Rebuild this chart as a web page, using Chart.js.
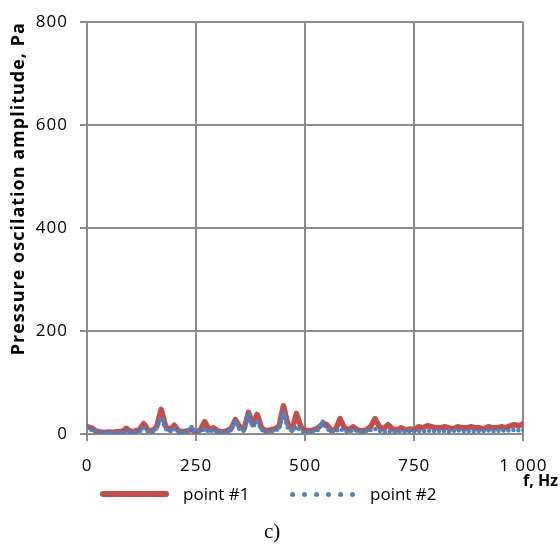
<!DOCTYPE html>
<html><head><meta charset="utf-8">
<script src="https://cdn.jsdelivr.net/npm/chart.js@4.4.0/dist/chart.umd.min.js"></script>
<style>
html,body{margin:0;padding:0;background:#fff;}
#wrap{position:relative;width:560px;height:555px;overflow:hidden;}
canvas{position:absolute;left:0;top:0;}
.t{position:absolute;font-family:'Open Sans',sans-serif;font-size:17px;color:#000;line-height:20px;white-space:nowrap;}
.dot{position:absolute;width:5px;height:5px;border-radius:50%;background:#4F81BD;}
</style></head><body>
<div id="wrap">
<canvas id="c" width="560" height="555"></canvas>
<div style="position:absolute;left:100px;top:491px;width:69px;height:6px;border-radius:3px;background:#C0504D;"></div>
<div class="t" id="lg1" style="left:183px;top:484px;">point #1</div>
<div id="dots"></div>
<div class="t" id="lg2" style="left:370px;top:484px;">point #2</div>
<div class="t" style="right:2px;top:470px;font-weight:bold;font-size:16px;">f, Hz</div>
<div style="position:absolute;left:264px;top:519px;font-family:'Liberation Serif',serif;font-size:21px;line-height:24px;">c)</div>
</div>
<script>
const seriesNames = ['point #1', 'point #2'];
const freqs = [0,10,20,30,40,50,60,70,80,90,100,110,120,130,140,150,160,170,180,190,200,210,220,230,240,250,260,270,280,290,300,310,320,330,340,350,360,370,380,390,400,410,420,430,440,450,460,470,480,490,500,510,520,530,540,550,560,570,580,590,600,610,620,630,640,650,660,670,680,690,700,710,720,730,740,750,760,770,780,790,800,810,820,830,840,850,860,870,880,890,900,910,920,930,940,950,960,970,980,990,1000];
const point1 = [14,12,6,4,3,4,3,5,4,11,
  5,6,8,20,8,6,15,48,15,8,
  17,6,4,6,9,4,8,24,8,12,
  6,4,6,10,28,14,10,42,18,38,
  12,6,8,10,14,55,20,8,40,14,
  8,6,8,12,20,18,6,10,30,12,
  8,14,8,6,8,14,30,14,10,18,
  10,8,12,8,10,8,14,12,16,14,
  12,12,14,12,10,14,12,12,14,12,
  12,10,14,12,12,14,12,16,18,16,20];
const point2 = [14,8,5,3,2,3,2,3,3,5,
  3,4,5,12,5,4,12,32,10,5,
  10,4,3,4,14,3,5,10,4,8,
  3,3,4,8,26,8,6,40,14,24,
  8,4,5,6,10,42,12,6,14,6,
  4,4,5,8,24,10,4,6,10,6,
  4,8,6,4,6,8,10,6,4,6,
  4,4,6,4,6,5,6,5,6,7,
  5,6,6,5,6,7,5,6,6,5,
  6,6,7,5,6,7,6,7,8,7,8];
const xTicks = [0,250,500,750,1000];
const xTickLabels = ['0','250','500','750','1 000'];
const yTicks = [0,200,400,600,800];
const yTickLabels = ['0','200','400','600','800'];

// legend dots
const dots = document.getElementById('dots');
for (let i = 0; i < 6; i++) {
  const d = document.createElement('div');
  d.className = 'dot';
  d.style.left = (290 + i * 12) + 'px';
  d.style.top = '492px';
  dots.appendChild(d);
}

const gridColor = '#8c8c8c';
const tickFont = {family: "'Open Sans'", size: 17};

const spacingPlugin = {
  id: 'spacing',
  beforeDraw(chart) { try { chart.ctx.letterSpacing = '1px'; } catch (e) {} }
};

new Chart(document.getElementById('c'), {
  type: 'line',
  plugins: [spacingPlugin],
  data: {
    datasets: [
      {label: seriesNames[0], data: freqs.map((f, i) => ({x: f, y: point1[i]})),
       borderColor: '#C0504D', backgroundColor: '#C0504D', borderWidth: 5.5,
       pointRadius: 0, tension: 0, borderJoinStyle: 'round', borderCapStyle: 'round', order: 2},
      {label: seriesNames[1], data: freqs.map((f, i) => ({x: f, y: point2[i]})),
       borderColor: '#4F81BD', backgroundColor: '#4F81BD', borderWidth: 4.5,
       borderDash: [0, 5], borderCapStyle: 'round', borderJoinStyle: 'round',
       pointRadius: 0, tension: 0, order: 1}
    ]
  },
  options: {
    responsive: false,
    animation: false,
    layout: {padding: {top: 22, left: 0, right: 36, bottom: 81}},
    plugins: {legend: {display: false}, tooltip: {enabled: false}},
    scales: {
      x: {
        type: 'linear', min: 0, max: 1000,
        afterBuildTicks: s => { s.ticks = xTicks.map(v => ({value: v})); },
        afterFit: s => { s.height = 40; },
        ticks: {color: '#000', font: tickFont, padding: 15, maxRotation: 0,
                callback: (v) => xTickLabels[xTicks.indexOf(v)]},
        grid: {color: gridColor, lineWidth: 2, tickLength: 7, drawTicks: true},
        border: {color: gridColor, width: 2}
      },
      y: {
        type: 'linear', min: 0, max: 800,
        afterBuildTicks: s => { s.ticks = yTicks.map(v => ({value: v})); },
        afterFit: s => { s.width = 87; },
        ticks: {color: '#000', font: tickFont, padding: 12,
                callback: (v) => yTickLabels[yTicks.indexOf(v)]},
        grid: {color: gridColor, lineWidth: 2, tickLength: 7, drawTicks: true},
        border: {color: gridColor, width: 2},
        title: {display: true, text: 'Pressure oscilation amplitude, Pa', color: '#000',
                font: {family: "'Open Sans'", size: 18, weight: 'bold'},
                align: 'end', padding: {top: 8, bottom: 0}}
      }
    }
  }
});
</script>
</body></html>
